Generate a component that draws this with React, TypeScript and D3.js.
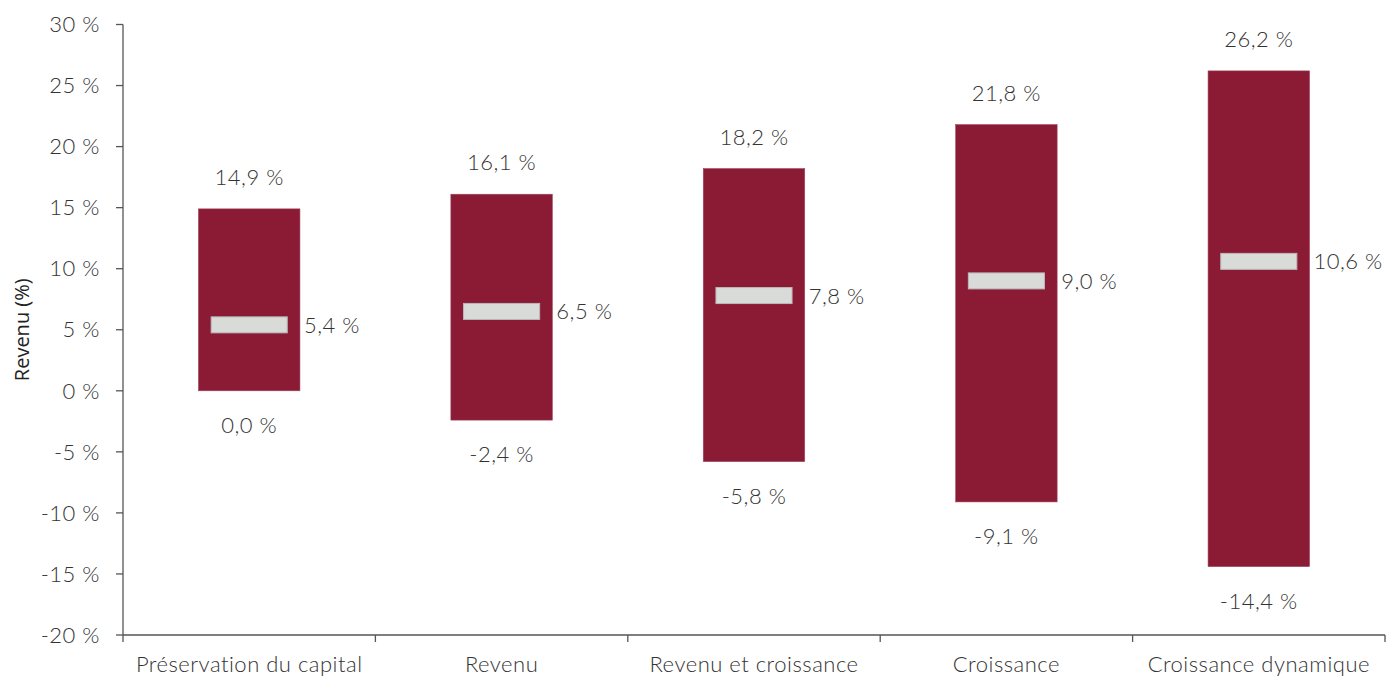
import React from "react";
import * as d3 from "d3";

const categories = [
  "Préservation du capital",
  "Revenu",
  "Revenu et croissance",
  "Croissance",
  "Croissance dynamique",
];
const lowValues = [0.0, -2.4, -5.8, -9.1, -14.4];
const highValues = [14.9, 16.1, 18.2, 21.8, 26.2];
const midValues = [5.4, 6.5, 7.8, 9.0, 10.6];
const yTicks = [30, 25, 20, 15, 10, 5, 0, -5, -10, -15, -20];
const yTitle = "Revenu (%)";

const W = 1396;
const H = 677;
const left = 123;
const right = 1385;
const top = 24.5;
const bottom = 635;

const fmt = (v: number) => v.toFixed(1).replace(".", ",") + " %";

export default function App() {
  const y = d3.scaleLinear().domain([-20, 30]).range([bottom, top]);
  const x = d3.scaleBand<string>().domain(categories).range([left, right]).padding(0);
  const bw = x.bandwidth();
  const barW = bw * 0.402;
  const markW = barW * 0.75;
  const font = "Lato, 'Open Sans', sans-serif";
  const txt = "#333";
  const fs = 22;
  const fw = 300;
  const ls = 0.5;

  return (
    <svg width={W} height={H} style={{ position: "absolute", left: 0, top: 0 }}>
      <rect width={W} height={H} fill="#fff" />
      {/* y axis */}
      <line x1={left} x2={left} y1={top} y2={bottom} stroke="#555" strokeWidth={1.3} />
      {yTicks.map((t) => (
        <g key={t}>
          <line x1={left - 7} x2={left} y1={y(t)} y2={y(t)} stroke="#555" strokeWidth={1.3} />
          <text x={left - 23} y={y(t)} dy="0.35em" textAnchor="end" fontFamily={font} fontWeight={fw} fontSize={fs} letterSpacing={ls} fill={txt}>
            {t} %
          </text>
        </g>
      ))}
      {/* x axis */}
      <line x1={left} x2={right} y1={bottom} y2={bottom} stroke="#555" strokeWidth={1.3} />
      {[...categories.map((c) => x(c) as number), right].map((p, i) => (
        <line key={i} x1={p} x2={p} y1={bottom} y2={bottom + 7} stroke="#555" strokeWidth={1.3} />
      ))}
      {categories.map((c) => (
        <text key={c} x={(x(c) as number) + bw / 2} y={672} textAnchor="middle" fontFamily={font} fontWeight={fw} fontSize={fs} letterSpacing={ls} fill={txt}>
          {c}
        </text>
      ))}
      <text
        transform={`translate(29,${(top + bottom) / 2}) rotate(-90)`}
        textAnchor="middle"
        fontFamily="'Open Sans', sans-serif"
        fontSize={20}
        fill="#222"
      >
        {yTitle}
      </text>
      {categories.map((c, i) => {
        const cx = (x(c) as number) + bw / 2;
        const lo = lowValues[i];
        const hi = highValues[i];
        const mid = midValues[i];
        return (
          <g key={c}>
            <rect
              x={cx - barW / 2}
              y={y(hi)}
              width={barW}
              height={y(lo) - y(hi)}
              fill="#8b1a35"
              stroke="#a0455c"
              strokeWidth={0.6}
            />
            <rect
              x={cx - markW / 2}
              y={y(mid) - 8}
              width={markW}
              height={16}
              fill="#d9dbd8"
              stroke="#b9b9b9"
              strokeWidth={1}
            />
            <text x={cx} y={y(hi) - 24} textAnchor="middle" fontFamily={font} fontWeight={fw} fontSize={fs} letterSpacing={ls} fill={txt}>
              {fmt(hi)}
            </text>
            <text x={cx} y={y(lo) + 42} textAnchor="middle" fontFamily={font} fontWeight={fw} fontSize={fs} letterSpacing={ls} fill={txt}>
              {fmt(lo)}
            </text>
            <text x={cx + barW / 2 + 4} y={y(mid) + 8} textAnchor="start" fontFamily={font} fontWeight={fw} fontSize={fs} letterSpacing={ls} fill={txt}>
              {fmt(mid)}
            </text>
          </g>
        );
      })}
    </svg>
  );
}
